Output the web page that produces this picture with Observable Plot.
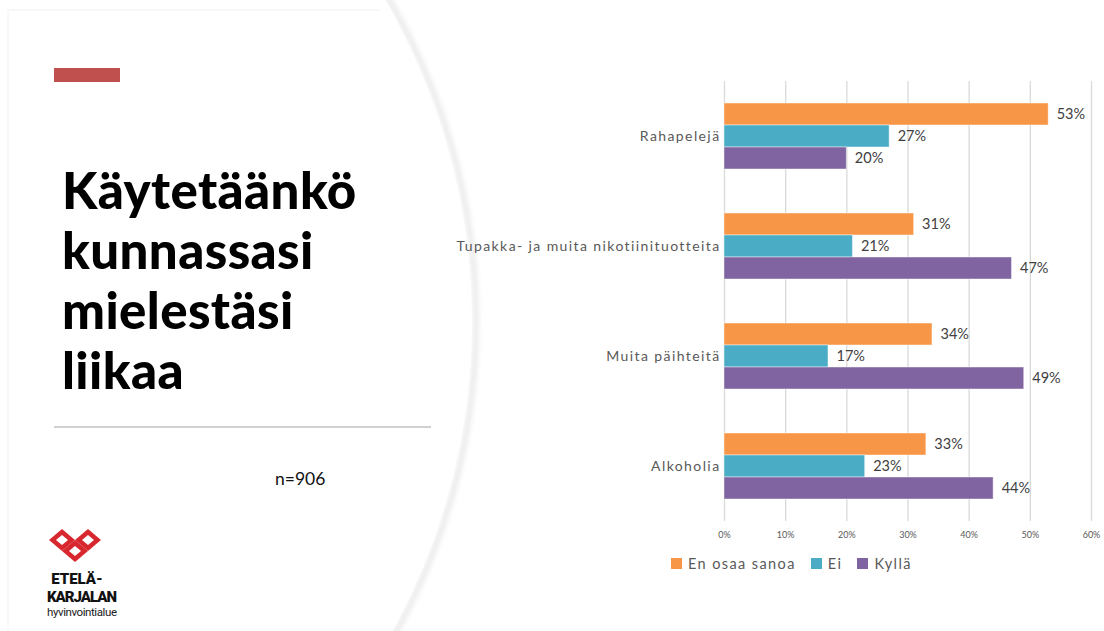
<!DOCTYPE html>
<html>
<head>
<meta charset="utf-8">
<script src="https://cdn.jsdelivr.net/npm/d3@7"></script>
<script src="https://cdn.jsdelivr.net/npm/@observablehq/plot@0.6"></script>
<style>
  html, body { margin: 0; padding: 0; background: #ffffff; }
  #slide { position: relative; width: 1104px; height: 631px; overflow: hidden; background: #fff; font-family: Lato, "Open Sans", sans-serif; }
  #deco { position: absolute; left: 0; top: 0; }
  #redbar { position: absolute; left: 54px; top: 68px; width: 66px; height: 14px; background: #C0504D; }
  #title { position: absolute; left: 62px; top: 160px; font-size: 51px; line-height: 60px; font-weight: 900; color: #000; letter-spacing: 0.4px; }
  #hr { position: absolute; left: 54px; top: 426px; width: 377px; height: 2px; background: #d0d0d0; }
  #n { position: absolute; left: 275px; top: 468px; font-size: 17.5px; color: #111; }
  #chart { position: absolute; left: 440px; top: 70px; }
  #legend { position: absolute; left: 671px; top: 555px; display: flex; align-items: center; font-size: 14.5px; color: #595959; letter-spacing: 1.4px; }
  #legend .item { display: flex; align-items: center; margin-right: 15px; }
  #legend .sw { width: 11px; height: 11px; margin-right: 6px; }
  #logo { position: absolute; left: 40px; top: 525px; }
</style>
</head>
<body>
<div id="slide">
  <svg id="deco" width="1104" height="631">
    <defs>
      <filter id="blur" x="-10%" y="-10%" width="120%" height="120%">
        <feGaussianBlur stdDeviation="2.5"/>
      </filter>
    </defs>
    <circle cx="-165" cy="322" r="641" fill="none" stroke="#000" stroke-opacity="0.09" stroke-width="5" filter="url(#blur)"/>
    <circle cx="-168" cy="322" r="640" fill="#fff" stroke="none"/>
    <line x1="8" y1="10" x2="380" y2="10" stroke="#f0f0f0" stroke-width="1"/>
    <line x1="8" y1="10" x2="8" y2="631" stroke="#f3f3f3" stroke-width="1"/>
  </svg>
  <div id="redbar"></div>
  <div id="title">Käytetäänkö<br>kunnassasi<br>mielestäsi<br>liikaa</div>
  <div id="hr"></div>
  <div id="n">n=906</div>
  <svg id="logo" width="90" height="100">
    <g fill="#D7282F">
      <polygon points="9,15 22,4 35,15 22,26"/>
      <polygon points="35,15 48,4 61,15 48,26"/>
      <polygon points="22,26 35,15 48,26 35,37"/>
    </g>
    <g fill="#fff">
      <polygon points="16,15 22,10 28,15 22,20"/>
      <polygon points="42,15 48,10 54,15 48,20"/>
      <polygon points="29,26 35,21 41,26 35,31"/>
    </g>
    <text x="37" y="59" text-anchor="middle" font-family="Roboto, 'DejaVu Sans', sans-serif" font-weight="900" font-size="15" fill="#111">ETELÄ-</text>
    <text x="42" y="77" text-anchor="middle" font-family="Roboto, 'DejaVu Sans', sans-serif" font-weight="900" font-size="15" fill="#111" textLength="70">KARJALAN</text>
    <text x="42" y="91" text-anchor="middle" font-family="Roboto, 'DejaVu Sans', sans-serif" font-size="11.5" fill="#222" textLength="70">hyvinvointialue</text>
  </svg>
  <div id="chart"></div>
  <div id="legend"></div>
</div>
<script>
// ---- data ----
const categories = ["Rahapelejä", "Tupakka- ja muita nikotiinituotteita", "Muita päihteitä", "Alkoholia"];
const series = ["En osaa sanoa", "Ei", "Kyllä"];
const enOsaaSanoa = [53, 31, 34, 33];
const ei = [27, 21, 17, 23];
const kylla = [20, 47, 49, 44];
const xTicks = [0, 10, 20, 30, 40, 50, 60];
const colors = ["#F79646", "#4BACC6", "#8064A2"];

const seriesValues = [enOsaaSanoa, ei, kylla];
const data = categories.flatMap((c, i) =>
  series.map((s, j) => ({ category: c, series: s, value: seriesValues[j][i] / 100 }))
);

const plot = Plot.plot({
  width: 664,
  height: 480,
  marginLeft: 284,
  marginRight: 13,
  marginTop: 10,
  marginBottom: 28,
  style: { fontFamily: "Lato, 'Open Sans', sans-serif", background: "transparent", overflow: "visible" },
  x: { domain: [0, 0.6] },
  y: { domain: series, axis: null, paddingInner: 0, paddingOuter: 0.92 },
  fy: { domain: categories, padding: 0 },
  color: { domain: series, range: colors },
  marks: [
    Plot.ruleX(xTicks.map(t => t / 100), { stroke: "#d9d9d9", strokeWidth: 1.3 }),
    Plot.barX(data, { x: "value", y: "series", fy: "category", fill: "series", stroke: "#fff", strokeOpacity: 0.45, strokeWidth: 1 }),
    Plot.text(data, {
      x: "value", y: "series", fy: "category",
      text: d => Math.round(d.value * 100) + "%",
      dx: 8, textAnchor: "start", fontSize: 14.5, fill: "#404040"
    }),
    Plot.axisX({
      ticks: xTicks.map(t => t / 100),
      tickFormat: d => Math.round(d * 100) + "%",
      tickSize: 0, tickPadding: 10, fontSize: 9, fill: "#595959", label: null
    }),
    Plot.axisFy({
      anchor: "left", tickSize: 0, tickPadding: 4, fontSize: 14, fill: "#595959", label: null
    })
  ]
});
document.getElementById("chart").appendChild(plot);
d3.select(plot).selectAll("[aria-label='fy-axis tick label'] text").style("letter-spacing", "1.4px");

// legend
const legend = d3.select("#legend");
series.forEach((s, i) => {
  const it = legend.append("div").attr("class", "item");
  it.append("div").attr("class", "sw").style("background", colors[i]);
  it.append("span").text(s);
});
</script>
</body>
</html>
